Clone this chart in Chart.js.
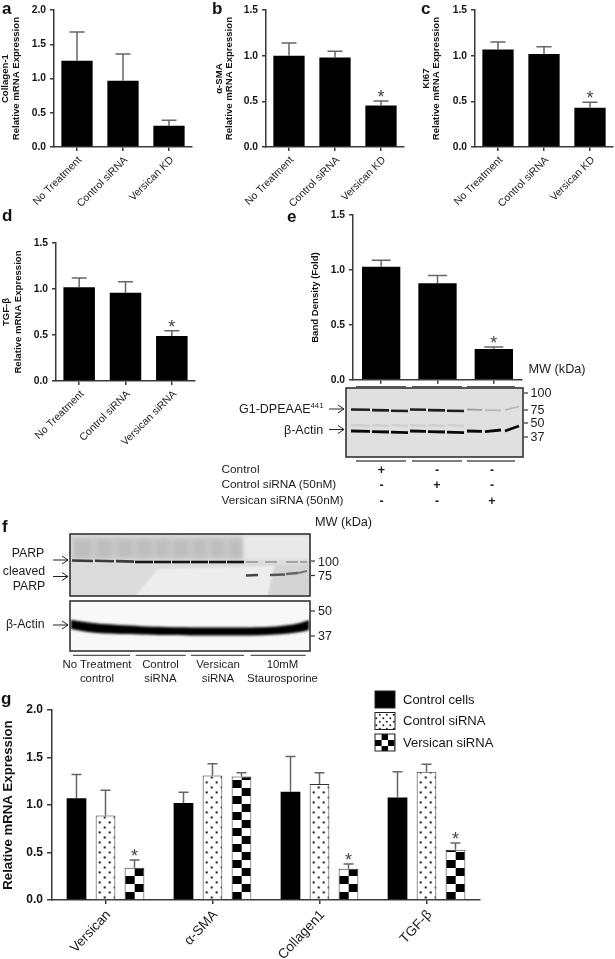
<!DOCTYPE html>
<html><head><meta charset="utf-8">
<script src="https://cdn.jsdelivr.net/npm/chart.js@4"></script>
<style>
html,body{margin:0;padding:0;background:#fff;}
#page{position:relative;width:615px;height:959px;overflow:hidden;background:#fff;filter:blur(0.4px);font-family:"Liberation Sans",Arial,sans-serif;color:#1c1c1c;}
#page canvas{position:absolute;}
.t{position:absolute;white-space:nowrap;transform:translateY(-50%);line-height:1;}
.c{transform:translate(-50%,-50%);}
.l{font-weight:bold;font-size:17px;color:#111;}
sup{font-size:62%;line-height:0;vertical-align:baseline;position:relative;top:-0.6em;}
</style></head><body><div id="page"></div>
<script>
// ---------- data ----------
const catsKD = ["No Treatment","Control siRNA","Versican KD"];
const catsSi = ["No Treatment","Control siRNA","Versican siRNA"];
const catsE = ["Control","Control siRNA","Versican siRNA"];
const catsG = ["Versican","α-SMA","Collagen1","TGF-β"];

const aVals=[1.26,0.97,0.31], aErr=[1.68,1.36,0.39], aStar=[0,0,0];
const bVals=[1.00,0.98,0.455], bErr=[1.14,1.05,0.505], bStar=[0,0,1];
const cVals=[1.07,1.02,0.43], cErr=[1.15,1.10,0.49], cStar=[0,0,1];
const dVals=[1.02,0.96,0.49], dErr=[1.12,1.08,0.545], dStar=[0,0,1];
const eVals=[1.03,0.88,0.28], eErr=[1.09,0.95,0.30], eStar=[0,0,1];

const gControl=[1.07,1.02,1.14,1.08], gControlErr=[1.32,1.135,1.51,1.35];
const gSi=[0.89,1.31,1.22,1.35], gSiErr=[1.155,1.435,1.34,1.43];
const gVer=[0.34,1.30,0.33,0.53], gVerErr=[0.42,1.34,0.38,0.60], gVerStar=[1,0,1,1];
const seriesG=["Control cells","Control siRNA","Versican siRNA"];

// ---------- helpers ----------
const page=document.getElementById('page');
const FONT='"Liberation Sans",Arial,sans-serif';
const AXIS='#3a3a3a', ERR='#666', TXT='#141414';

const errPlugin={id:'errs',afterDatasetsDraw(ch){
  const c=ch.ctx,y=ch.scales.y;
  ch.data.datasets.forEach((ds,di)=>{
    const m=ch.getDatasetMeta(di);
    m.data.forEach((b,i)=>{
      const ye=y.getPixelForValue(ds.err[i]),yv=y.getPixelForValue(ds.data[i]);
      c.save();c.strokeStyle=ERR;c.lineWidth=1.5;c.beginPath();
      c.moveTo(b.x,yv);c.lineTo(b.x,ye);
      c.moveTo(b.x-ds.cap/2,ye);c.lineTo(b.x+ds.cap/2,ye);c.stroke();
      if(ds.star&&ds.star[i]){c.fillStyle='#444';c.font='18px '+FONT;c.textAlign='center';c.textBaseline='alphabetic';c.fillText('*',b.x,ye+2);}
      c.restore();
    });
  });
}};

function makeChart(o){
  const cv=document.createElement('canvas');
  cv.width=o.w;cv.height=o.h;cv.style.left=o.x+'px';cv.style.top=o.y+'px';
  page.appendChild(cv);
  const axisW=o.left-o.x, padTop=o.top-o.y, xH=o.y+o.h-o.bottom, padRight=o.x+o.w-o.right;
  return new Chart(cv,{type:'bar',
    data:{labels:o.labels,datasets:o.datasets},
    plugins:[errPlugin].concat(o.plugins||[]),
    options:{responsive:false,animation:false,devicePixelRatio:1,
      layout:{padding:{top:padTop,right:padRight,left:0,bottom:0}},
      plugins:{legend:{display:false},tooltip:{enabled:false}},
      scales:{
        x:{offset:true,grid:{offset:false,drawOnChartArea:false,color:AXIS,lineWidth:1.5,tickLength:o.xTick||4},
           border:{color:AXIS,width:1.5},
           afterFit:s=>{s.height=xH;},
           ticks:{autoSkip:false,minRotation:o.rot||45,maxRotation:o.rot||45,labelOffset:o.xOff==null?3:o.xOff,color:o.xColor||'#1c1c1c',padding:o.xPad==null?3:o.xPad,display:o.xLabels!==false,font:{family:FONT,size:o.xFont||10.5}}},
        y:{min:0,max:o.max,grid:{drawOnChartArea:false,color:AXIS,lineWidth:1.5,tickLength:o.yTick||4},
           border:{color:AXIS,width:1.5},
           afterFit:s=>{s.width=axisW;},
           title:{display:true,text:o.title,color:TXT,padding:{top:o.titleTop||0,bottom:0},font:{family:FONT,size:o.titleFont||9.6,weight:'bold',lineHeight:o.titleLH||1.06}},
           ticks:{stepSize:0.5,color:TXT,padding:o.yPad||4,font:{family:FONT,size:o.yFont||10.3,weight:'bold'},callback:v=>Number(v).toFixed(1)}}
      }}});
}
function single(v,e,s,cap){return [{data:v,err:e,star:s,cap:cap,backgroundColor:'#000',borderWidth:0,barPercentage:0.68,categoryPercentage:1}];}

makeChart({x:0,y:0,w:215,h:215,left:54,right:192,top:10,bottom:147,max:2.0,labels:catsKD,title:["Collagen-1","Relative mRNA Expression"],titleTop:0.7,
  datasets:single(aVals,aErr,aStar,15)});
makeChart({x:214,y:0,w:205,h:215,left:266,right:404,top:10,bottom:147,max:1.5,labels:catsKD,title:["α-SMA","Relative mRNA Expression"],
  datasets:single(bVals,bErr,bStar,15)});
makeChart({x:421,y:0,w:194,h:215,left:475,right:613,top:10,bottom:147,max:1.5,labels:catsKD,title:["KI67","Relative mRNA Expression"],
  datasets:single(cVals,cErr,cStar,15)});
makeChart({x:0,y:230,w:215,h:225,left:56,right:195,top:243,bottom:381,max:1.5,labels:catsSi,title:["TGF-β","Relative mRNA Expression"],titleTop:0.7,titleLH:1.2,
  datasets:single(dVals,dErr,dStar,15)});
makeChart({x:310,y:205,w:220,h:185,left:353,right:522,top:215,bottom:382,max:1.5,labels:catsE,xLabels:false,title:"Band Density (Fold)",
  datasets:single(eVals,eErr,eStar,19)});

// patterns
function mk(w,h,draw){const c=document.createElement('canvas');c.width=w;c.height=h;draw(c.getContext('2d'));return c;}
const dotTile=()=>mk(10,10,x=>{x.fillStyle='#fff';x.fillRect(0,0,10,10);x.fillStyle='#222';
  x.beginPath();x.arc(4,2.5,1.15,0,7);x.arc(9,7.5,1.15,0,7);x.fill();x.beginPath();x.arc(-1,7.5,1.15,0,7);x.fill();});
const chkTile=(cw,ch)=>mk(cw*2,ch*2,x=>{x.fillStyle='#fff';x.fillRect(0,0,cw*2,ch*2);x.fillStyle='#000';
  x.fillRect(cw,0,cw,ch);x.fillRect(0,ch,cw,ch);});
const ctxP=document.createElement('canvas').getContext('2d');
const dotP=catsG.map(()=>ctxP.createPattern(dotTile(),'repeat'));
const chkP=catsG.map(()=>ctxP.createPattern(chkTile(10,8),'repeat'));

const legendPlugin={id:'lg',
  afterLayout(ch){
    const y0=ch.scales.y.getPixelForValue(0);
    const step=ch.scales.x.getPixelForValue(1)-ch.scales.x.getPixelForValue(0);
    const w=step*0.813/3;
    chkP.forEach((p,i)=>{const bx=ch.scales.x.getPixelForValue(i)+w-w*0.68/2;
      p.setTransform(new DOMMatrix().translate(bx,y0));});
    dotP.forEach((p,i)=>{const bx=ch.scales.x.getPixelForValue(i)-w*0.68/2;
      p.setTransform(new DOMMatrix().translate(bx,y0));});
  },
  afterDraw(ch){
    const c=ch.ctx, oy=ch.canvas.offsetTop;
    const rows=[691,712.5,734];
    const leg=[()=>'#000',()=>c.createPattern(mk(7,7,x=>{x.fillStyle='#fff';x.fillRect(0,0,7,7);x.fillStyle='#222';x.beginPath();x.arc(1.8,1.8,1,0,7);x.arc(5.3,5.3,1,0,7);x.fill();}),'repeat'),()=>{const p=c.createPattern(chkTile(6.6,6),'repeat');p.setTransform(new DOMMatrix().translate(375,734-oy));return p;}];
    seriesG.forEach((s,i)=>{
      const y=rows[i]-oy;
      c.save();c.fillStyle=leg[i]();c.fillRect(375,y,20,17);c.strokeStyle='#222';c.lineWidth=1;c.strokeRect(375,y,20,17);
      c.fillStyle=TXT;c.font='13px '+FONT;c.textAlign='left';c.textBaseline='middle';c.fillText(s,403,y+9);c.restore();
    });
  }};
const gOpt=(v,e,s,bg,bc,bw)=>({data:v,err:e,star:s,cap:10,backgroundColor:bg,borderColor:bc,borderWidth:bw,barPercentage:0.68,categoryPercentage:0.813});
makeChart({x:0,y:685,w:615,h:274,left:52,right:480,top:710,bottom:900,max:2.0,labels:catsG,
  title:"Relative mRNA Expression",titleFont:13.2,titleTop:1,yFont:12,yTick:5,xFont:13.6,xTick:4,rot:47,xPad:3,yPad:4,xOff:3,
  plugins:[legendPlugin],
  datasets:[gOpt(gControl,gControlErr,null,'#000','#000',0),
            gOpt(gSi,gSiErr,null,dotP,'#333',1),
            gOpt(gVer,gVerErr,gVerStar,chkP,'#333',1)]});

// ---------- western-blot images & labels ----------
const bl=document.createElement('canvas');bl.width=615;bl.height=959;bl.style.left='0';bl.style.top='0';page.appendChild(bl);
const x=bl.getContext('2d');
function box(a,b,c,d,col){x.fillStyle=col;x.fillRect(a,b,c-a,d-b);}
function frame(a,b,c,d){x.strokeStyle='#333';x.lineWidth=1.6;x.strokeRect(a,b,c-a,d-b);}
function seg(a,b,c,d,col,w){x.strokeStyle=col;x.lineWidth=w;x.beginPath();x.moveTo(a,b);x.lineTo(c,d);x.stroke();}
function arrow(a,b,c){x.strokeStyle='#222';x.lineWidth=1;x.beginPath();x.moveTo(a,b);x.lineTo(c,b);x.moveTo(c-6,b-4);x.lineTo(c,b);x.lineTo(c-6,b+4);x.stroke();}
function soft(px,fn){x.save();x.filter='blur('+px+'px)';fn();x.restore();}

// blot e
box(346,388,523,457,'#e0e0e0');
const eLanes=[[351,370],[372,389],[391,408],[410,426],[428,445],[447,464],[467,482],[485,501],[505,519]];
soft(0.6,()=>{
  eLanes.forEach((l,i)=>{
    const g=i<6?'#1e1e1e':i==6?'#a0a0a0':'#b8b8b8';
    seg(l[0],i==8?410:409.5+(i%3)*.6,l[1],i==8?406.5:409.8+(i%3)*.6,g,i<6?2.6:1.8);
    if(i<6)seg(l[0],425,l[1],426,'#cfcfcf',2.4);
    const ya=431+(i%3)*.6;
    seg(l[0],i==8?431:ya,l[1],i==8?426:(i==7?430:ya+.4),'#080808',2.8);
  });
});
frame(346,388,523,457);
[[356,406],[412,462],[467,515]].forEach(s=>{seg(s[0],386.8,s[1],386.8,'#555',1.4);seg(s[0],461,s[1],461,'#555',1.4);});
[393,410,423,437].forEach(y=>seg(524,y,528,y,'#333',1.2));
arrow(329,409,344);arrow(329,429.5,344);

// blot f
box(70,534,310,596,'#dcdcdc');
soft(1,()=>{
  x.fillStyle='#ededed';x.beginPath();x.moveTo(135,596);x.lineTo(158,569);x.lineTo(275,566);x.lineTo(268,596);x.fill();
  x.fillStyle='#e9e9e9';x.fillRect(243,536,67,23);
  x.fillStyle='#d4d4d4';x.beginPath();x.moveTo(268,596);x.lineTo(275,566);x.lineTo(310,564);x.lineTo(310,596);x.fill();
});
const fLanes=[[72,92],[95,113],[116,133],[135,152],[154,170],[172,189],[191,207],[209,225],[227,243],[246,258],[265,277],[286,298],[300,307]];
soft(2,()=>{
  x.fillStyle='rgba(160,160,160,.3)';x.fillRect(72,537,171,22);
  fLanes.slice(0,9).forEach((l,i)=>{x.fillStyle='rgba(150,150,150,.22)';x.fillRect(l[0]+2,540,l[1]-l[0]-3,18);});
});
soft(0.7,()=>{
  fLanes.forEach((l,i)=>{seg(l[0],i<3?560.5+i*.3:562,l[1]+(i<9?1:0),i<3?561+i*.3:562,i<9?(i<3?'#3a3a3a':'#141414'):'#8c8c8c',i<9?2.6:1.4);});
  seg(246,575.5,258,575,'#444',2.6);seg(270,575,285,574.5,'#555',2.4);seg(286,574,298,573,'#666',2.4);seg(298,573,307,571,'#777',2);
});
frame(70,534,310,596);
box(70,601,310,651,'#f8f8f8');
soft(0.8,()=>{
  x.fillStyle='#000';x.beginPath();x.moveTo(71,620);x.bezierCurveTo(85,622,95,624,130,625.5);x.bezierCurveTo(160,627.5,190,627.5,240,627.5);x.bezierCurveTo(270,627.5,295,626,309,620);
  x.lineTo(309,630);x.bezierCurveTo(295,634,270,635.5,240,635.5);x.bezierCurveTo(190,635.5,160,635.5,130,634);x.bezierCurveTo(100,634,85,632,71,629);x.fill();
});
frame(70,601,310,651);
[[73,130],[135.7,185.7],[191,244],[250.7,305.7]].forEach(s=>seg(s[0],655.3,s[1],655.3,'#555',1.3));
[[561,311,315],[575.5,311,315],[611,311,315],[636,311,315]].forEach(s=>seg(s[1],s[0],s[2],s[0],'#333',1.2));
arrow(53,560,68);arrow(53,576.5,68);arrow(53,625,68);

function T(s,xp,yp,sz,cls,extra){const d=document.createElement('div');d.className='t '+(cls||'');d.innerHTML=s;d.style.left=xp+'px';d.style.top=yp+'px';d.style.fontSize=sz+'px';if(extra)d.style.cssText+=extra;page.appendChild(d);}
// panel letters
[['a',2,8],['b',212,8],['c',421,8],['d',2,215],['e',287,216],['f',2,526],['g',1,698]].forEach(p=>T(p[0],p[1],p[2],17,'l'));
// e labels
T('MW (kDa)',528.5,369,12.7);
[['100',393],['75',410],['50',423],['37',437]].forEach(p=>T(p[0],530.5,p[1],12.5));
T('G1-DPEAAE<sup>441</sup>',239,409,12.5);
T('β-Actin',284,430,12.5);
T('Control',221.5,470,11.8);T('Control siRNA (50nM)',221.5,485,11.8);T('Versican siRNA (50nM)',221.5,500.5,11.8);
[['+','-','-'],['-','+','-'],['-','-','+']].forEach((r,i)=>{r.forEach((s,j)=>T(s,[381.5,437,492][j],[470,485,500.5][i],12.5,'c','font-weight:bold;'));});
// f labels
T('MW (kDa)',315,522,12.7);
[['100',561.5],['75',576],['50',611],['37',636]].forEach(p=>T(p[0],318,p[1],12.5));
T('PARP',28,553,12.3,'c');T('cleaved',24,571,12.3,'c');T('PARP',29,586,12.3,'c');
T('β-Actin',6,624,12.3);
[['No Treatment',97],['Control',160.5],['Versican',218],['10mM',282.5]].forEach(p=>T(p[0],p[1],665,11.4,'c'));
[['control',97],['siRNA',160.5],['siRNA',218],['Staurosporine',282.5]].forEach(p=>T(p[0],p[1],678.5,11.4,'c'));
</script></body></html>
